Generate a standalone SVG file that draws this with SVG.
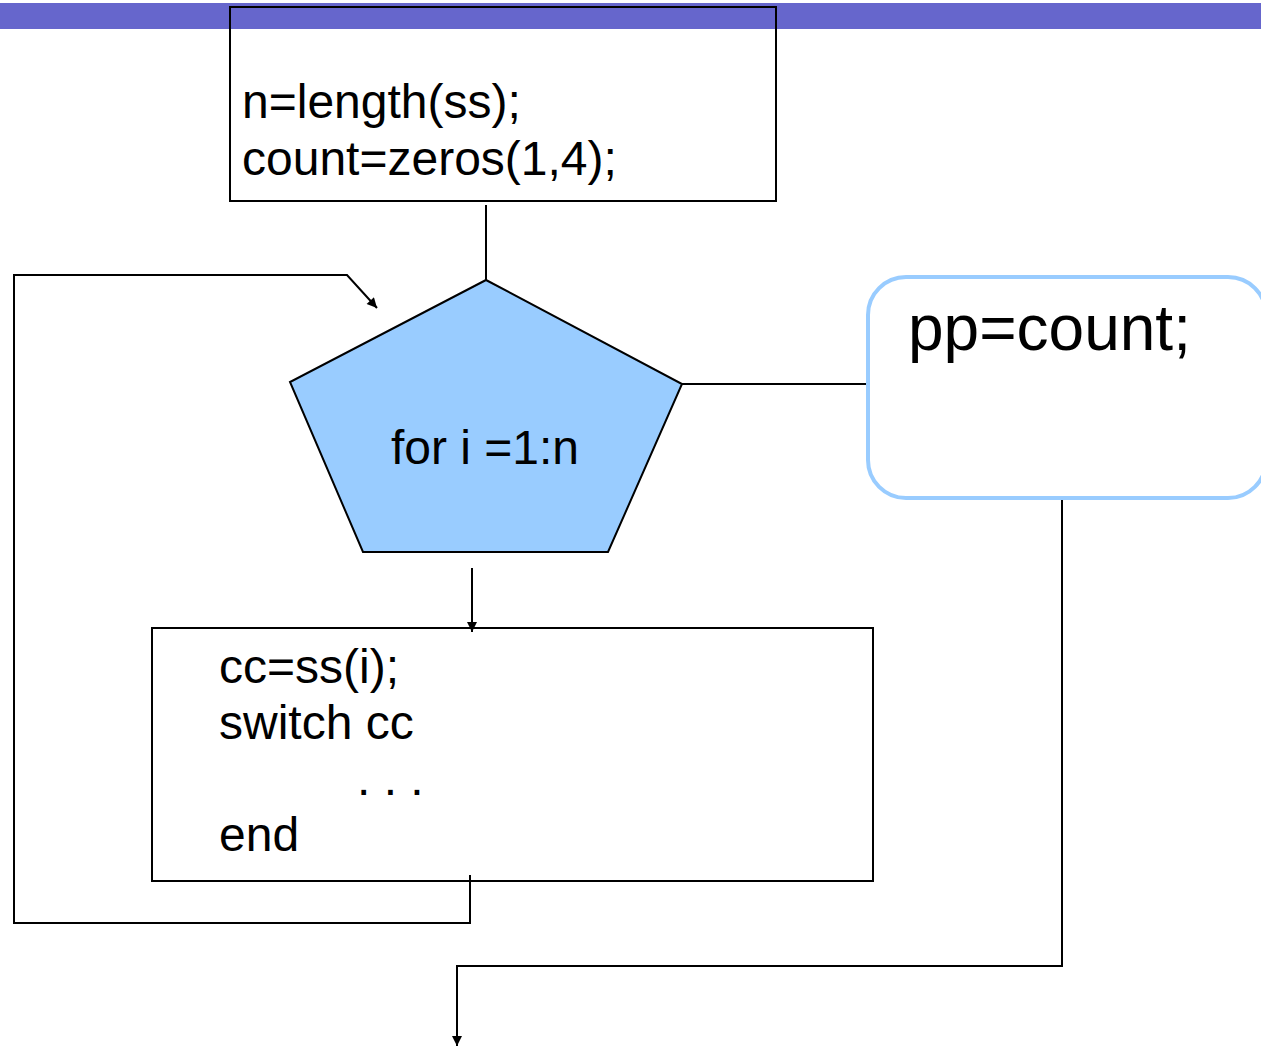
<svg xmlns="http://www.w3.org/2000/svg" width="1261" height="1047" viewBox="0 0 1261 1047">
  <style>
    .t { font-family: "Liberation Sans", Arial, sans-serif; fill: #000; }
    .box { fill: none; stroke: #000; stroke-width: 2; }
    .wire { fill: none; stroke: #000; stroke-width: 2; }
  </style>
  <defs>
    <marker id="arr" viewBox="0 0 10 10" refX="10" refY="5" markerWidth="11" markerHeight="10" orient="auto" markerUnits="userSpaceOnUse">
      <path d="M0,0 L10,5 L0,10 z" fill="#000"/>
    </marker>
  </defs>

  <!-- header band -->
  <rect x="0" y="3" width="1261" height="26" fill="#6666CC"/>

  <g id="connectors">
    <line class="wire" x1="486" y1="205" x2="486" y2="280"/>
    <line class="wire" x1="682" y1="384" x2="868" y2="384"/>
    <line class="wire" x1="472" y1="568" x2="472" y2="632" marker-end="url(#arr)"/>
    <polyline class="wire" points="470,875 470,923 14,923 14,275 347,275 377,308" marker-end="url(#arr)"/>
    <polyline class="wire" points="1062,500 1062,966 457,966 457,1046" marker-end="url(#arr)"/>
  </g>

  <g id="init">
    <rect class="box" x="230" y="7" width="546" height="194"/>
    <text class="t" x="242" y="118" font-size="48">n=length(ss);</text>
    <text class="t" x="242" y="175" font-size="48">count=zeros(1,4);</text>
  </g>

  <g id="loop">
    <polygon points="486,280 682,384 608,552 363,552 290,382" fill="#99CCFF" stroke="#000" stroke-width="2"/>
    <text class="t" x="485" y="464" font-size="48" text-anchor="middle">for i =1:n</text>
  </g>

  <g id="result">
    <rect x="868" y="277" width="398" height="221" rx="38" fill="#fff" stroke="#99CCFF" stroke-width="4"/>
    <text class="t" x="908" y="350" font-size="64">pp=count;</text>
  </g>

  <g id="body">
    <rect class="box" x="152" y="628" width="721" height="253"/>
    <text class="t" x="219" y="683" font-size="48">cc=ss(i);</text>
    <text class="t" x="219" y="739" font-size="48">switch cc</text>
    <text class="t" x="357" y="795" font-size="48">. . .</text>
    <text class="t" x="219" y="851" font-size="48">end</text>
  </g>
</svg>
